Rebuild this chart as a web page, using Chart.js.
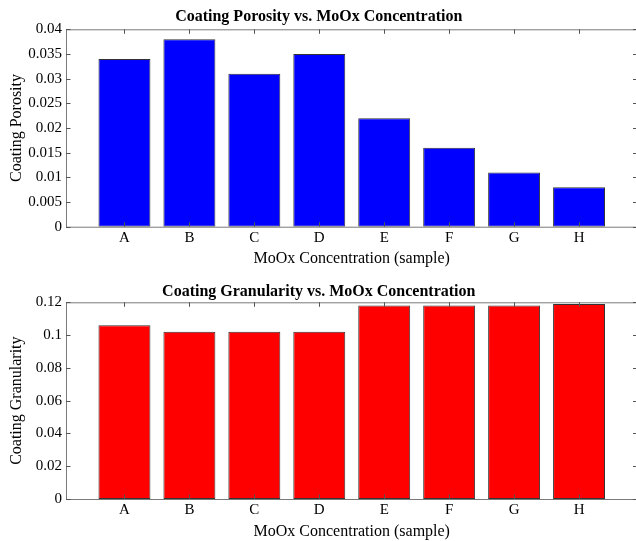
<!DOCTYPE html>
<html>
<head>
<meta charset="utf-8">
<script src="https://cdn.jsdelivr.net/npm/chart.js@4/dist/chart.umd.min.js"></script>
<style>
  html, body { margin: 0; padding: 0; background: #fff; overflow: hidden; }
  #wrap { width: 636px; height: 541px; overflow: hidden; position: relative; }
  canvas { display: block; }
</style>
</head>
<body>
<div id="wrap">
  <canvas id="porosity" width="640" height="270"></canvas>
  <canvas id="granularity" width="640" height="271"></canvas>
</div>
<script>
const samples = ["A", "B", "C", "D", "E", "F", "G", "H"];
const porosity = [0.034, 0.038, 0.031, 0.035, 0.022, 0.016, 0.011, 0.008];
const granularity = [0.106, 0.102, 0.102, 0.102, 0.118, 0.118, 0.118, 0.119];
const porosityTicks = [0, 0.005, 0.01, 0.015, 0.02, 0.025, 0.03, 0.035, 0.04];
const granularityTicks = [0, 0.02, 0.04, 0.06, 0.08, 0.1, 0.12];

const SERIF = "'Liberation Serif', 'Times New Roman', serif";

// matlab style box: frame around the axes plus inward ticks on all four sides
const boxTicks = {
  id: "boxTicks",
  afterDraw(chart) {
    const { ctx, chartArea: a, scales } = chart;
    const len = 4.5;
    ctx.save();
    ctx.lineWidth = 1;
    ctx.strokeStyle = "#7a7a7a";
    ctx.strokeRect(a.left + 0.5, a.top + 0.5, a.right - a.left, a.bottom - a.top);
    ctx.strokeStyle = "#555";
    ctx.beginPath();
    scales.y.ticks.forEach((t) => {
      const y = Math.round(scales.y.getPixelForValue(t.value)) + 0.5;
      ctx.moveTo(a.left, y);
      ctx.lineTo(a.left + len, y);
      ctx.moveTo(a.right, y);
      ctx.lineTo(a.right - len, y);
    });
    scales.x.ticks.forEach((t) => {
      const x = Math.round(scales.x.getPixelForValue(t.value)) + 0.5;
      ctx.moveTo(x, a.top);
      ctx.lineTo(x, a.top + len);
      ctx.moveTo(x, a.bottom);
      ctx.lineTo(x, a.bottom - len);
    });
    ctx.stroke();
    ctx.restore();
  },
};

function makeChart(id, cfg) {
  return new Chart(document.getElementById(id), {
    type: "bar",
    data: {
      datasets: [
        {
          data: cfg.values.map((v, i) => ({ x: i + 1, y: v })),
          backgroundColor: cfg.color,
          borderColor: "#333",
          borderWidth: 1,
          borderSkipped: false,
          barPercentage: 0.8,
          categoryPercentage: 1,
        },
      ],
    },
    options: {
      responsive: false,
      animation: false,
      devicePixelRatio: 1,
      layout: { padding: { left: 0, right: 2.5, top: 0, bottom: 0 } },
      plugins: {
        legend: { display: false },
        tooltip: { enabled: false },
        title: {
          display: true,
          text: cfg.title,
          color: "#000",
          font: { family: SERIF, size: 16, weight: "bold" },
          padding: cfg.titlePad,
        },
      },
      scales: {
        x: {
          type: "linear",
          min: 0.1,
          max: 8.9,
          offset: false,
          afterBuildTicks: (s) => {
            s.ticks = samples.map((_, i) => ({ value: i + 1 }));
          },
          afterFit: (s) => {
            s.height = cfg.xHeight;
          },
          grid: { display: false, drawTicks: false, offset: false },
          border: { display: false },
          ticks: {
            color: "#000",
            padding: 2,
            font: { family: SERIF, size: 15 },
            callback: (v) => samples[v - 1],
          },
          title: {
            display: true,
            text: "MoOx Concentration (sample)",
            color: "#000",
            font: { family: SERIF, size: 16 },
            padding: { top: 0, bottom: cfg.xTitleBottom },
          },
        },
        y: {
          min: 0,
          max: cfg.max,
          afterBuildTicks: (s) => {
            s.ticks = cfg.ticks.map((v) => ({ value: v }));
          },
          afterFit: (s) => {
            s.width = 66;
          },
          grid: { display: false, drawTicks: false },
          border: { display: false },
          ticks: {
            color: "#000",
            padding: 4,
            font: { family: SERIF, size: 15 },
            callback: (v) => String(+v.toFixed(4)),
          },
          title: {
            display: true,
            text: cfg.yTitle,
            color: "#000",
            font: { family: SERIF, size: 16 },
            padding: { top: 7, bottom: 0 },
          },
        },
      },
    },
    plugins: [boxTicks],
  });
}

makeChart("porosity", {
  values: porosity,
  color: "#0000ff",
  max: 0.04,
  ticks: porosityTicks,
  title: "Coating Porosity vs. MoOx Concentration",
  yTitle: "Coating Porosity",
  titlePad: { top: 6.8, bottom: 3.3 },
  xHeight: 43.3,
  xTitleBottom: 1.4,
});

makeChart("granularity", {
  values: granularity,
  color: "#ff0000",
  max: 0.12,
  ticks: granularityTicks,
  title: "Coating Granularity vs. MoOx Concentration",
  yTitle: "Coating Granularity",
  titlePad: { top: 12.1, bottom: 1 },
  xHeight: 42,
  xTitleBottom: 0,
});
</script>
</body>
</html>
